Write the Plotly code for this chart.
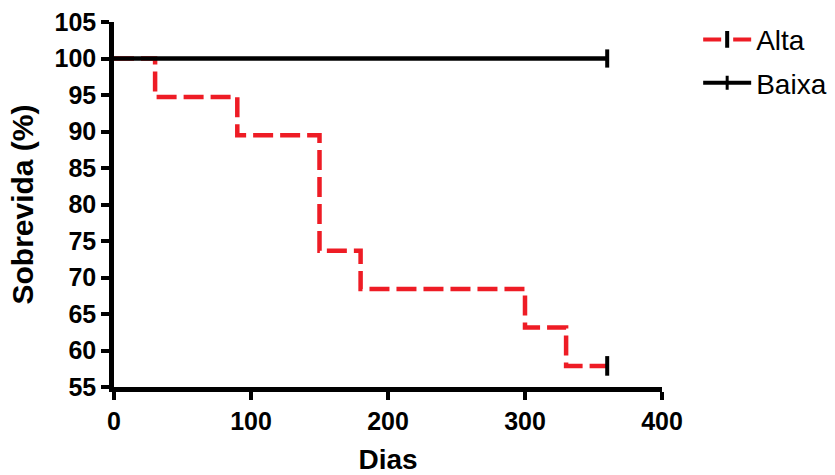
import plotly.graph_objects as go

# Kaplan-Meier survival estimates (days, % surviving)
dias_alta = [0, 30, 90, 150, 180, 300, 330, 360]
sobrevida_alta = [100, 94.74, 89.47, 73.68, 68.42, 63.16, 57.89, 57.89]

dias_baixa = [0, 360]
sobrevida_baixa = [100, 100]

x_ticks = [0, 100, 200, 300, 400]
y_ticks = [55, 60, 65, 70, 75, 80, 85, 90, 95, 100, 105]

RED = "#EE1C25"
BLACK = "#000000"
FONT = "Liberation Sans, Arial, sans-serif"

fig = go.Figure()

# step curves
fig.add_trace(go.Scatter(
    x=dias_alta, y=sobrevida_alta, mode="lines", line_shape="hv",
    line=dict(color=RED, width=4.5, dash="20px,7px"),
    showlegend=False, hoverinfo="skip"))
fig.add_trace(go.Scatter(
    x=[dias_alta[-1]], y=[sobrevida_alta[-1]], mode="markers",
    marker=dict(symbol="line-ns", size=14, line=dict(color=BLACK, width=4)),
    showlegend=False, hoverinfo="skip"))
fig.add_trace(go.Scatter(
    x=dias_baixa, y=sobrevida_baixa, mode="lines", line_shape="hv",
    line=dict(color=BLACK, width=4.5),
    showlegend=False, hoverinfo="skip"))
fig.add_trace(go.Scatter(
    x=[dias_baixa[-1]], y=[sobrevida_baixa[-1]], mode="markers",
    marker=dict(symbol="line-ns", size=13, line=dict(color=BLACK, width=4)),
    showlegend=False, hoverinfo="skip"))

# legend entries (line with censor tick)
fig.add_trace(go.Scatter(
    x=[None], y=[None], mode="lines+markers", name="Alta", legendgroup="alta",
    line=dict(color=RED, width=4, dash="18px,12px"),
    marker=dict(symbol="line-ns", size=12, color=BLACK, line=dict(color=BLACK, width=4))))
fig.add_trace(go.Scatter(
    x=[None], y=[None], mode="lines+markers", name="Baixa", legendgroup="baixa",
    line=dict(color=BLACK, width=4),
    marker=dict(symbol="line-ns", size=10, color=BLACK, line=dict(color=BLACK, width=3))))

axis_common = dict(
    showline=True, linewidth=4.5, linecolor=BLACK, mirror=False,
    ticks="outside", ticklen=8, tickwidth=4, tickcolor=BLACK,
    showgrid=False, zeroline=False,
    tickfont=dict(family=FONT, size=25, color=BLACK, weight="bold"),
)

fig.update_layout(
    width=835, height=475,
    margin=dict(l=114, r=173, t=22, b=88, autoexpand=False),
    paper_bgcolor="white", plot_bgcolor="white",
    xaxis=dict(range=[0, 400], tickvals=x_ticks, ticktext=[str(v) for v in x_ticks],
               title=dict(text="Dias", standoff=18,
                          font=dict(family=FONT, size=28, color=BLACK, weight="bold")),
               **axis_common),
    yaxis=dict(range=[55, 105], tickvals=y_ticks, ticktext=[str(v) for v in y_ticks],
               title=dict(text="Sobrevida (%)", standoff=14,
                          font=dict(family=FONT, size=30, color=BLACK, weight="bold")),
               **axis_common),
    legend=dict(x=1.066, y=1.02, xanchor="left", yanchor="top",
                font=dict(family=FONT, size=28, color=BLACK),
                itemwidth=48,
                bgcolor="rgba(0,0,0,0)", traceorder="grouped", tracegroupgap=4),
)

fig.write_html("out.html")
